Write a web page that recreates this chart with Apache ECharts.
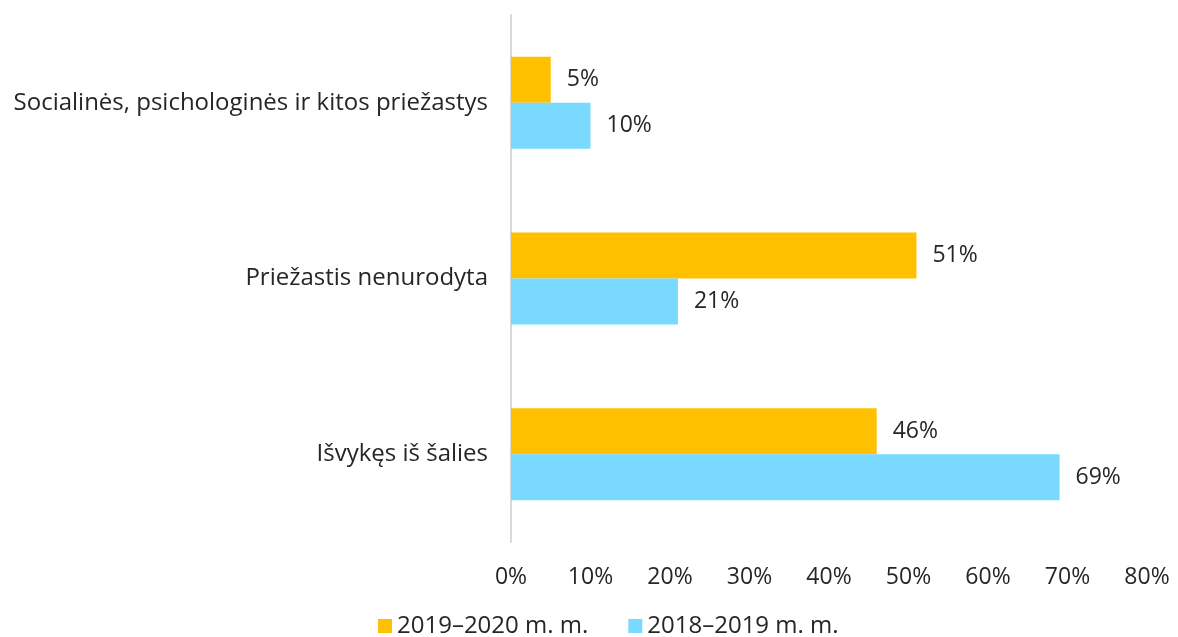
<!DOCTYPE html>
<html>
<head>
<meta charset="utf-8">
<script src="https://cdn.jsdelivr.net/npm/echarts@6/dist/echarts.min.js"></script>
<style>
  html, body { margin: 0; padding: 0; background: #fff; }
  #chart { width: 1178px; height: 637px; }
</style>
</head>
<body>
<div id="chart"></div>
<script>
// kategorijos (iš viršaus į apačią)
const categories = ['Socialinės, psichologinės ir kitos priežastys', 'Priežastis nenurodyta', 'Išvykęs iš šalies'];
const seriesNames = ['2019–2020 m. m.', '2018–2019 m. m.'];
const values2019_2020 = [5, 51, 46];
const values2018_2019 = [10, 21, 69];
const xTicks = [0, 10, 20, 30, 40, 50, 60, 70, 80];

const chart = echarts.init(document.getElementById('chart'));
const fontFamily = '"Open Sans", sans-serif';
const fontSize = 24;
const textColor = '#262626';

const barLabel = {
  show: true,
  position: 'right',
  distance: 16,
  formatter: '{c}%',
  fontSize: 23,
  fontFamily: fontFamily,
  color: textColor
};

chart.setOption({
  animation: false,
  grid: {
    left: 511,
    right: 31,
    top: 15,
    bottom: 95
  },
  xAxis: {
    type: 'value',
    min: xTicks[0],
    max: xTicks[xTicks.length - 1],
    interval: 10,
    axisLine: { show: false },
    axisTick: { show: false },
    splitLine: { show: false },
    axisLabel: {
      formatter: '{value}%',
      fontSize: 23,
      fontFamily: fontFamily,
      color: textColor,
      margin: 24
    }
  },
  yAxis: {
    type: 'category',
    inverse: true,
    data: categories,
    axisLine: { show: true, lineStyle: { color: '#d9d9d9', width: 2 } },
    axisTick: { show: false },
    axisLabel: {
      fontSize: fontSize,
      fontFamily: fontFamily,
      color: textColor,
      margin: 23
    }
  },
  legend: {
    top: 614,
    left: 378,
    icon: 'rect',
    itemWidth: 14,
    itemHeight: 14,
    itemGap: 40,
    padding: 0,
    textStyle: { fontSize: fontSize, fontFamily: fontFamily, color: textColor },
    data: seriesNames
  },
  series: [
    {
      name: seriesNames[0],
      type: 'bar',
      data: values2019_2020,
      barWidth: 46,
      barGap: '0%',
      itemStyle: { color: '#ffc000' },
      label: barLabel
    },
    {
      name: seriesNames[1],
      type: 'bar',
      data: values2018_2019,
      barWidth: 46,
      barGap: '0%',
      itemStyle: { color: '#79d9ff' },
      label: barLabel
    }
  ]
});
</script>
</body>
</html>
